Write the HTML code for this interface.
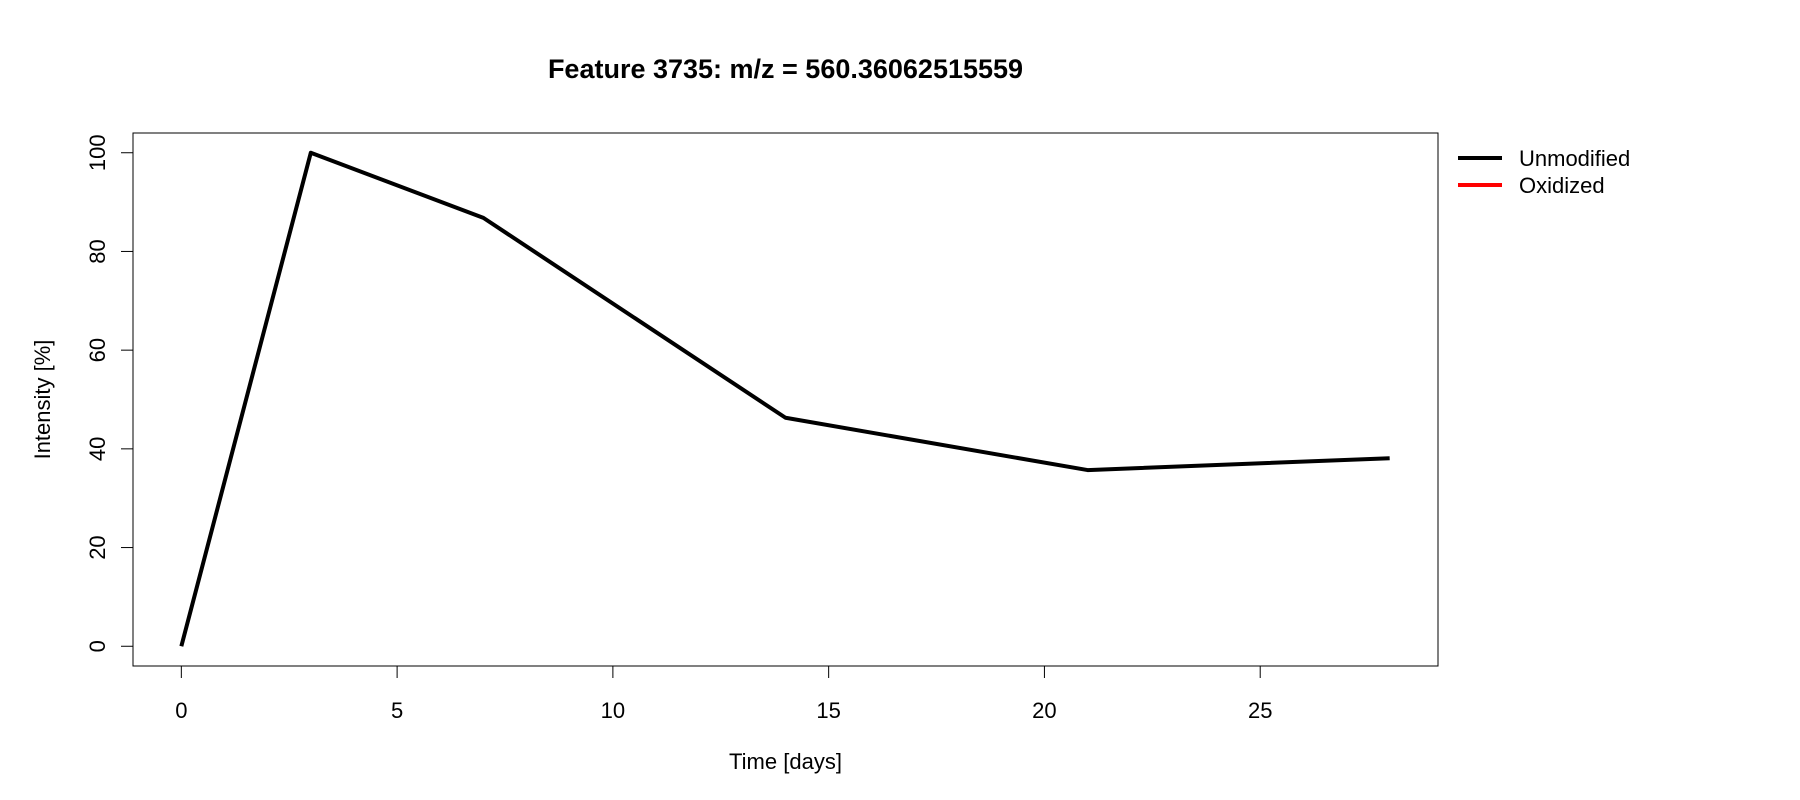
<!DOCTYPE html>
<html><head><meta charset="utf-8"><style>body{margin:0;background:#fff}svg{display:block;font-family:"Liberation Sans",Arial,sans-serif}</style></head>
<body>
<svg id="chart" width="1800" height="800"></svg>
<script>
const days = [0, 3, 7, 14, 21, 28];
const unmodified = [0, 100, 86.8, 46.3, 35.7, 38.1];
const xTicks = [0, 5, 10, 15, 20, 25];
const yTicks = [0, 20, 40, 60, 80, 100];
const L = 133, R = 1438, T = 133, B = 666;
const xmin = -28 * 0.04, xmax = 28 * 1.04, ymin = -4, ymax = 104;
const sx = v => L + (v - xmin) / (xmax - xmin) * (R - L);
const sy = v => B - (v - ymin) / (ymax - ymin) * (B - T);
const svg = document.getElementById('chart');
const NS = 'http://www.w3.org/2000/svg';
function mk(tag, attrs, text) {
  const e = document.createElementNS(NS, tag);
  for (const k in attrs) e.setAttribute(k, attrs[k]);
  if (text !== undefined) e.textContent = text;
  svg.appendChild(e);
  return e;
}
let e;
e = mk('text', {x: (L + R) / 2, y: 78, 'text-anchor': 'middle', 'font-size': 27, 'font-weight': 'bold'}, 'Feature 3735: m/z = 560.36062515559');


e = mk('rect', {x: L, y: T, width: R - L, height: B - T, fill: 'none', stroke: '#000', 'stroke-width': 1});


e = mk('line', {x1: sx(xTicks[0]), x2: sx(xTicks[xTicks.length - 1]), y1: B, y2: B, stroke: '#000'});


xTicks.forEach(t => {
  e = mk('line', {x1: sx(t), x2: sx(t), y1: B, y2: B + 12, stroke: '#000'});
  
  
  e = mk('text', {x: sx(t), y: 718, 'text-anchor': 'middle', 'font-size': 22}, String(t));
  
  
});
e = mk('line', {x1: L, x2: L, y1: sy(yTicks[0]), y2: sy(yTicks[yTicks.length - 1]), stroke: '#000'});


yTicks.forEach(t => {
  e = mk('text', {x: 105, y: sy(t), 'text-anchor': 'middle', 'font-size': 22, transform: `rotate(-90 105 ${sy(t)})`}, String(t));
  
  
  e = mk('line', {x1: L - 12, x2: L, y1: sy(t), y2: sy(t), stroke: '#000'});
  
  
});
e = mk('text', {x: (L + R) / 2, y: 769, 'text-anchor': 'middle', 'font-size': 22}, 'Time [days]');


const cy = (T + B) / 2;
e = mk('text', {x: 50, y: cy, 'text-anchor': 'middle', 'font-size': 22, transform: `rotate(-90 50 ${cy})`}, 'Intensity [%]');


e = mk('polyline', {points: days.map((d, i) => sx(d) + ',' + sy(unmodified[i])).join(' '), fill: 'none', stroke: '#000', 'stroke-width': 4, 'stroke-linejoin': 'round'});


e = mk('line', {x1: 1458, x2: 1502, y1: 158, y2: 158, stroke: '#000', 'stroke-width': 4});


e = mk('text', {x: 1519, y: 166, 'font-size': 22}, 'Unmodified');


e = mk('line', {x1: 1458, x2: 1502, y1: 185, y2: 185, stroke: '#f00', 'stroke-width': 4});


e = mk('text', {x: 1519, y: 193, 'font-size': 22}, 'Oxidized');


</script>
</body></html>
